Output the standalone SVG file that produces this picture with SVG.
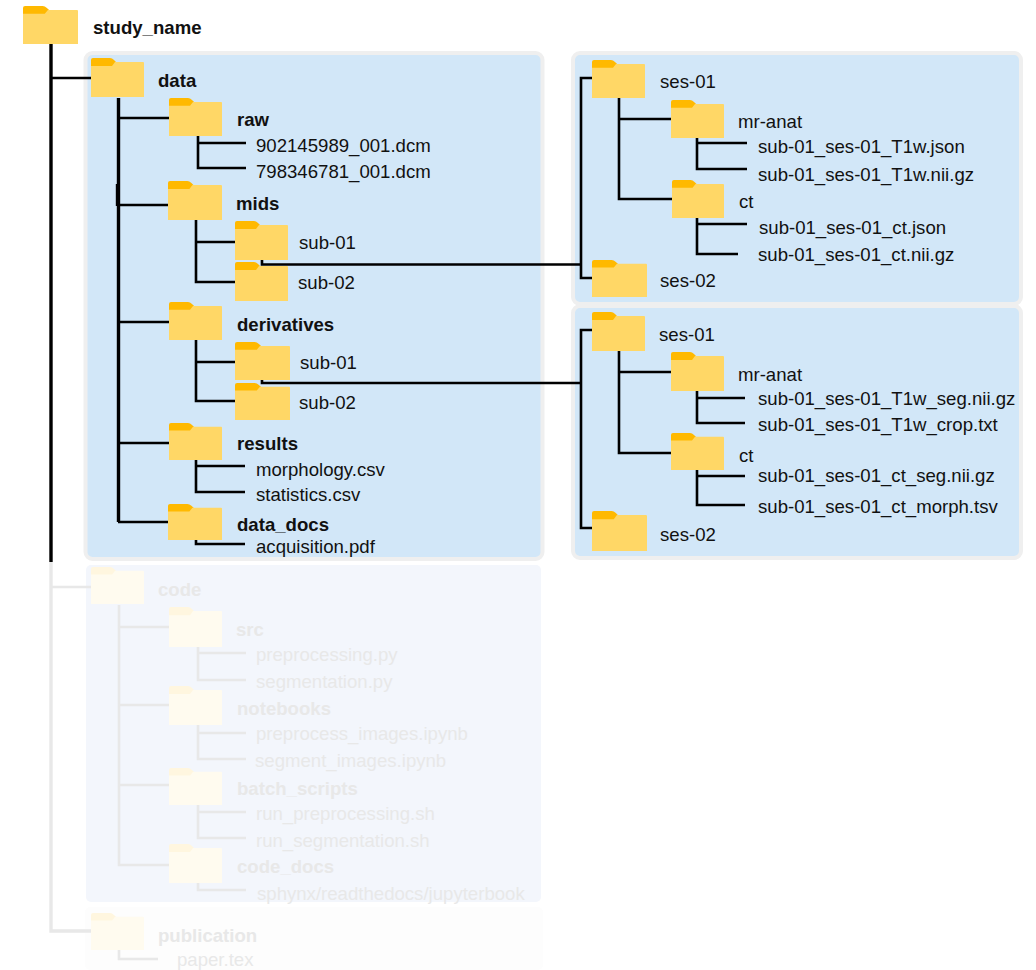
<svg xmlns="http://www.w3.org/2000/svg" width="1036" height="970" viewBox="0 0 1036 970">
<style>
text{font-family:"Liberation Sans",Arial,sans-serif;font-size:18.6px;fill:#111}
.b{font-weight:bold;font-size:18.6px}
.c{fill:none;stroke:#000;stroke-width:2.6}
.t{stroke-width:3.4}
.panel{fill:#d2e7f8;stroke:#efefef;stroke-width:4}
.fade text{fill:#e8e8e8}
.fade .c{stroke:#e8e8e8}
</style>
<defs>
<symbol id="folder" viewBox="0 0 53 39" preserveAspectRatio="none">
<path d="M0 8V2Q0 0 2 0H19Q21 0 23 2L27 6V9H0Z" fill="#ffb900"/>
<path d="M0 8H21L24 4H52Q53 4 53 5V39H0Z" fill="#ffd766"/>
</symbol>
<symbol id="folder-f" viewBox="0 0 53 39" preserveAspectRatio="none">
<path d="M0 8V2Q0 0 2 0H19Q21 0 23 2L27 6V9H0Z" fill="#fff6df"/>
<path d="M0 8H21L24 4H52Q53 4 53 5V39H0Z" fill="#fffbef"/>
</symbol>
</defs>
<g id="panels">
<rect class="panel" x="85.500" y="53" width="457" height="506" rx="7"/>
<rect class="panel" x="573" y="53" width="448" height="251" rx="7"/>
<rect class="panel" x="573" y="306" width="448" height="252" rx="7"/>
<rect x="86" y="565" width="455" height="337" rx="5" fill="#f3f6fc"/>
<rect x="85" y="907" width="458" height="63" rx="5" fill="#fdfdfd"/>
</g>
<g id="connectors">
<path class="c t" d="M51 44V562"/>
<path class="c" d="M51 78H91"/>
<path class="c t" d="M118.500 98V522"/>
<path class="c" d="M118 118H169M117 205H168M118 322H169M118 443H169M118 522H168"/>
<path class="c t" d="M117.500 184V206"/>
<path class="c" d="M198 136V168H246M198 143H246"/>
<path class="c" d="M196 220V282H235M196 242H235"/>
<path class="c" d="M196 340V401H235M196 362H236"/>
<path class="c" d="M196 460V492H245M196 466H245"/>
<path class="c" d="M196 540V544H245"/>
<path class="c" d="M262 260V264.500H581M581 264.500V78H592M581 264.500V278H592"/>
<path class="c" d="M262 380V383H581M581 383V330H592M581 383V528H592"/>
<path class="c" d="M619 98V199H672M619 119H671"/>
<path class="c" d="M697 138V169H747M697 143H747"/>
<path class="c" d="M697 218V254H738M697 224H747"/>
<path class="c" d="M619 351V453H671M619 372H671"/>
<path class="c" d="M697 391V423H745M697 398H745"/>
<path class="c" d="M697 470V505H745M697 476H745"/>
</g>
<g id="fade-connectors" class="fade">
<path class="c t" d="M51 562V931H91"/>
<path class="c" d="M51 587H91"/>
<path class="c" d="M119 605V865H169M119 627H169M119 705H169M118 785H169"/>
<path class="c" d="M198 647V680H246M198 653H246"/>
<path class="c" d="M198 725V759H246M198 733H246"/>
<path class="c" d="M198 805V838H246M198 812H246"/>
<path class="c" d="M198 883V890H246"/>
<path class="c" d="M119 950V959H158"/>
</g>
<g id="study_name"><use href="#folder" x="23" y="6" width="55" height="38"/><text class="b" x="93" y="34">study_name</text></g>
<g id="data"><use href="#folder" x="91" y="58" width="53" height="39"/><text class="b" x="158" y="87">data</text></g>
<g id="raw"><use href="#folder" x="169" y="98" width="53" height="38"/><text class="b" x="237" y="126">raw</text><text x="256" y="152">902145989_001.dcm</text><text x="256" y="178">798346781_001.dcm</text></g>
<g id="mids"><use href="#folder" x="168" y="181" width="54" height="39"/><text class="b" x="236" y="210">mids</text></g>
<g id="mids-sub-01"><use href="#folder" x="235" y="221" width="53" height="39"/><text x="299" y="249">sub-01</text></g>
<g id="mids-sub-02"><use href="#folder" x="235" y="262" width="53" height="39"/><text x="298" y="289">sub-02</text></g>
<g id="derivatives"><use href="#folder" x="169" y="302" width="53" height="38"/><text class="b" x="237" y="331">derivatives</text></g>
<g id="derivatives-sub-01"><use href="#folder" x="235" y="342" width="55" height="38"/><text x="300" y="369">sub-01</text></g>
<g id="derivatives-sub-02"><use href="#folder" x="235" y="383" width="55" height="37"/><text x="299" y="409">sub-02</text></g>
<g id="results"><use href="#folder" x="169" y="423" width="53" height="37"/><text class="b" x="237" y="450">results</text><text x="256" y="476">morphology.csv</text><text x="256" y="501">statistics.csv</text></g>
<g id="data_docs"><use href="#folder" x="168" y="504" width="54" height="36"/><text class="b" x="237" y="531">data_docs</text><text x="256" y="553">acquisition.pdf</text></g>
<g id="s1-ses-01"><use href="#folder" x="592" y="60" width="53" height="38"/><text x="660" y="88">ses-01</text></g>
<g id="s1-mr-anat"><use href="#folder" x="671" y="100" width="53" height="38"/><text x="738" y="128">mr-anat</text><text x="758" y="153">sub-01_ses-01_T1w.json</text><text x="758" y="181">sub-01_ses-01_T1w.nii.gz</text></g>
<g id="s1-ct"><use href="#folder" x="672" y="180" width="52" height="38"/><text x="739" y="208">ct</text><text x="759" y="234">sub-01_ses-01_ct.json</text><text x="758" y="261">sub-01_ses-01_ct.nii.gz</text></g>
<g id="s1-ses-02"><use href="#folder" x="592" y="260" width="55" height="37"/><text x="660" y="287">ses-02</text></g>
<g id="s2-ses-01"><use href="#folder" x="592" y="312" width="53" height="39"/><text x="659" y="341">ses-01</text></g>
<g id="s2-mr-anat"><use href="#folder" x="671" y="352" width="53" height="39"/><text x="738" y="381">mr-anat</text><text x="758" y="405">sub-01_ses-01_T1w_seg.nii.gz</text><text x="758" y="431">sub-01_ses-01_T1w_crop.txt</text></g>
<g id="s2-ct"><use href="#folder" x="671" y="433" width="53" height="37"/><text x="739" y="462">ct</text><text x="758" y="482">sub-01_ses-01_ct_seg.nii.gz</text><text x="758" y="513">sub-01_ses-01_ct_morph.tsv</text></g>
<g id="s2-ses-02"><use href="#folder" x="592" y="511" width="55" height="40"/><text x="660" y="541">ses-02</text></g>
<g class="fade">
<g id="code"><use href="#folder-f" x="91" y="567" width="53" height="37"/><text class="b" x="158" y="596">code</text></g>
<g id="src"><use href="#folder-f" x="169" y="607" width="53" height="40"/><text class="b" x="236" y="636">src</text><text x="256" y="661">preprocessing.py</text><text x="256" y="688">segmentation.py</text></g>
<g id="notebooks"><use href="#folder-f" x="169" y="686" width="53" height="39"/><text class="b" x="237" y="715">notebooks</text><text x="256" y="740">preprocess_images.ipynb</text><text x="255" y="767">segment_images.ipynb</text></g>
<g id="batch_scripts"><use href="#folder-f" x="169" y="768" width="53" height="37"/><text class="b" x="237" y="795">batch_scripts</text><text x="256" y="820">run_preprocessing.sh</text><text x="256" y="847">run_segmentation.sh</text></g>
<g id="code_docs"><use href="#folder-f" x="169" y="844" width="53" height="39"/><text class="b" x="237" y="873">code_docs</text><text x="257" y="900">sphynx/readthedocs/jupyterbook</text></g>
<g id="publication"><use href="#folder-f" x="91" y="913" width="53" height="37"/><text class="b" x="158" y="942">publication</text><text x="177" y="966">paper.tex</text></g>
</g>
</svg>
